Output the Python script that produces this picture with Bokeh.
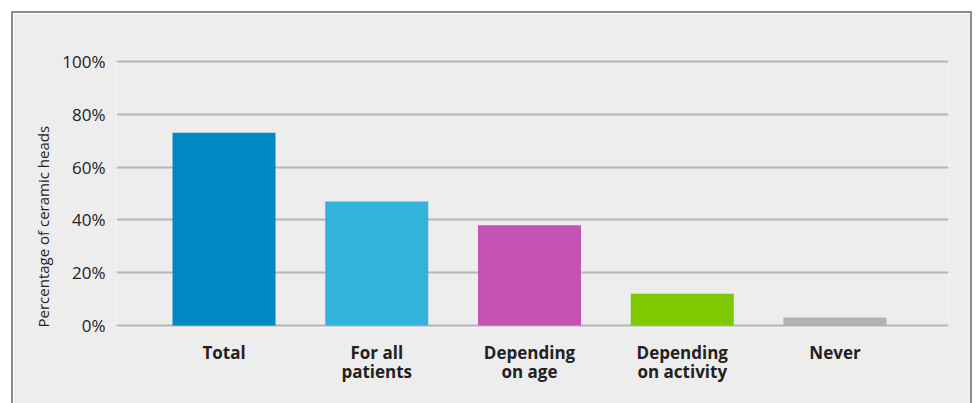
from bokeh.plotting import figure
from bokeh.models import FixedTicker, Range1d, Title, ColumnDataSource, PrintfTickFormatter, LinearAxis
from bokeh.embed import file_html
from bokeh.resources import INLINE

categories = ["Total", "For all patients", "Depending on age", "Depending on activity", "Never"]
label_line1 = ["Total", "For all", "Depending", "Depending", "Never"]
label_line2 = ["", "patients", "on age", "on activity", ""]
values = [73, 47, 38, 12, 3]
colors = ["#0088c3", "#33b2db", "#c452b5", "#80c800", "#b2b2b2"]
y_ticks = [0, 20, 40, 60, 80, 100]

FONT = "Open Sans"
TEXT = "#222222"

idx = list(range(len(categories)))
src = ColumnDataSource(dict(x=idx, top=values, color=colors, name=categories))

p = figure(
    output_backend="svg", toolbar_location=None,
    frame_width=832, frame_height=268,
    min_border_left=103, min_border_right=22, min_border_top=46, min_border_bottom=76,
    x_range=Range1d(-0.7038, 4.743), y_range=Range1d(-0.758, 100.758),
    background_fill_color="#ededed", border_fill_color="#ededed",
    outline_line_color=None,
    margin=(11, 0, 0, 11),
    styles={"border-top": "2px solid #8c8c8c", "border-left": "2px solid #8c8c8c",
            "border-right": "2px solid #8c8c8c", "box-sizing": "content-box"},
)
p.xaxis.visible = False

p.vbar(x="x", top="top", bottom=0, width=0.674, color="color", line_color=None, source=src)


def style_x(ax, labels, standoff):
    ax.ticker = FixedTicker(ticks=idx)
    ax.major_label_overrides = {i: c for i, c in zip(idx, labels)}
    ax.axis_line_color = None
    ax.major_tick_line_color = None
    ax.minor_tick_line_color = None
    ax.major_label_text_font = FONT
    ax.major_label_text_font_style = "bold"
    ax.major_label_text_font_size = "17px"
    ax.major_label_text_color = TEXT
    ax.major_label_standoff = standoff


ax1 = LinearAxis()
style_x(ax1, label_line1, 7)
p.add_layout(ax1, "below")
ax2 = LinearAxis()
style_x(ax2, label_line2, -13)
p.add_layout(ax2, "below")

p.yaxis.ticker = FixedTicker(ticks=y_ticks)
p.yaxis.formatter = PrintfTickFormatter(format="%d%%")
p.yaxis.axis_line_color = None
p.yaxis.major_tick_line_color = None
p.yaxis.minor_tick_line_color = None
p.yaxis.major_label_text_font = FONT
p.yaxis.major_label_text_font_size = "17px"
p.yaxis.major_label_text_color = TEXT
p.yaxis.major_label_standoff = 5

p.xgrid.grid_line_color = None
p.ygrid.ticker = FixedTicker(ticks=y_ticks)
p.ygrid.grid_line_color = "#b5b5b5"
p.ygrid.grid_line_width = 2

ytitle = Title(text="Percentage of ceramic heads", align="left", offset=0,
               text_font=FONT, text_font_size="15px", text_font_style="normal",
               text_color=TEXT, standoff=14)
p.add_layout(ytitle, "left")

open("out.html", "w").write(file_html(p, INLINE))
